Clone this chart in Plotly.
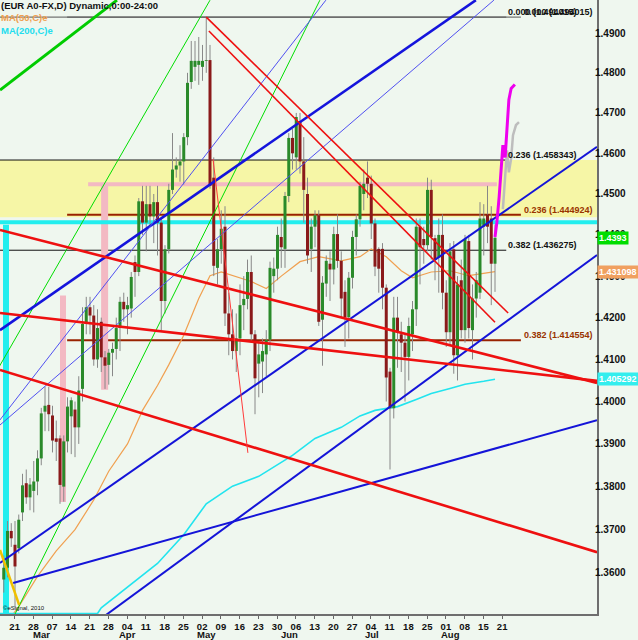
import math
import numpy as np
import pandas as pd
import plotly.graph_objects as go

# ---------------- data ----------------
dates = pd.bdate_range("2011-02-17", "2011-08-19")

opens = [1.3585, 1.3612,
         1.3697, 1.3665, 1.3657, 1.3740, 1.3808,
         1.3775, 1.3790, 1.3812, 1.3866, 1.3976,
         1.3992, 1.3967, 1.3913, 1.3913, 1.3800,
         1.3906, 1.3965, 1.3981, 1.3939, 1.4030,
         1.4185, 1.4225, 1.4205, 1.4100, 1.4190,
         1.4105, 1.4087, 1.4116, 1.4125, 1.4175,
         1.4238, 1.4220, 1.4222, 1.4334, 1.4310,
         1.4482, 1.4430, 1.4475, 1.4445, 1.4480,
         1.4430, 1.4240, 1.4365, 1.4510, 1.4560,
         1.4570, 1.4580, 1.4640, 1.4777, 1.4815,
         1.4820, 1.4815, 1.4830, 1.4832, 1.4540,
         1.4320, 1.4365, 1.4420, 1.4210, 1.4160,
         1.4120, 1.4150, 1.4230, 1.4245, 1.4310,
         1.4160, 1.4090, 1.4095, 1.4112, 1.4147,
         1.4300, 1.4318, 1.4395, 1.4366, 1.4495,
         1.4638, 1.4590, 1.4680, 1.4580, 1.4500,
         1.4366, 1.4420, 1.4448, 1.4195, 1.4282,
         1.4330, 1.4316, 1.4402, 1.4337, 1.4262,
         1.4201, 1.4296, 1.4395, 1.4438, 1.4500,
         1.4540, 1.4525, 1.4428, 1.4366, 1.4366,
         1.4272, 1.4071, 1.3984, 1.4200, 1.4160,
         1.4140, 1.4106, 1.4160, 1.4220, 1.4420,
         1.4390, 1.4375, 1.4510, 1.4392, 1.4345,
         1.4400, 1.4260, 1.4165, 1.4365, 1.4110,
         1.4290, 1.4170, 1.4385, 1.4170, 1.4246,
         1.4260, 1.4420, 1.4450, 1.4440, 1.4330]
highs = [1.3640, 1.3720,
         1.3715, 1.3720, 1.3735, 1.3830, 1.3840,
         1.3820, 1.3860, 1.3885, 1.3985, 1.4035,
         1.4035, 1.3990, 1.3955, 1.3920, 1.3920,
         1.4010, 1.4010, 1.4000, 1.4060, 1.4225,
         1.4250, 1.4250, 1.4230, 1.4220, 1.4200,
         1.4120, 1.4125, 1.4140, 1.4200, 1.4250,
         1.4260, 1.4250, 1.4310, 1.4350, 1.4490,
         1.4520, 1.4520, 1.4520, 1.4500, 1.4520,
         1.4440, 1.4375, 1.4525, 1.4650, 1.4590,
         1.4620, 1.4650, 1.4800, 1.4880, 1.4880,
         1.4890, 1.4870, 1.4940, 1.4870, 1.4590,
         1.4390, 1.4460, 1.4470, 1.4260, 1.4220,
         1.4210, 1.4280, 1.4300, 1.4340, 1.4350,
         1.4170, 1.4140, 1.4150, 1.4170, 1.4335,
         1.4345, 1.4420, 1.4440, 1.4505, 1.4650,
         1.4660, 1.4700, 1.4700, 1.4640, 1.4540,
         1.4440, 1.4460, 1.4460, 1.4300, 1.4350,
         1.4360, 1.4420, 1.4450, 1.4360, 1.4290,
         1.4310, 1.4410, 1.4450, 1.4530, 1.4560,
         1.4580, 1.4545, 1.4440, 1.4370, 1.4380,
         1.4280, 1.4080, 1.4250, 1.4250, 1.4190,
         1.4160, 1.4200, 1.4240, 1.4440, 1.4440,
         1.4420, 1.4540, 1.4535, 1.4400, 1.4440,
         1.4450, 1.4290, 1.4380, 1.4385, 1.4300,
         1.4340, 1.4400, 1.4400, 1.4280, 1.4310,
         1.4480, 1.4475, 1.4520, 1.4470, 1.4425]
lows = [1.3555, 1.3590,
        1.3660, 1.3520, 1.3645, 1.3720, 1.3760,
        1.3745, 1.3740, 1.3780, 1.3850, 1.3930,
        1.3930, 1.3880, 1.3860, 1.3760, 1.3765,
        1.3880, 1.3876, 1.3869, 1.3900, 1.4000,
        1.4160, 1.4160, 1.4085, 1.4080, 1.4070,
        1.4030, 1.4040, 1.4060, 1.4100, 1.4120,
        1.4190, 1.4160, 1.4200, 1.4250, 1.4300,
        1.4400, 1.4360, 1.4420, 1.4380, 1.4350,
        1.4170, 1.4210, 1.4355, 1.4500, 1.4540,
        1.4530, 1.4523, 1.4620, 1.4760, 1.4780,
        1.4770, 1.4780, 1.4800, 1.4513, 1.4300,
        1.4280, 1.4330, 1.4180, 1.4110, 1.4100,
        1.4070, 1.4110, 1.4170, 1.4220, 1.4140,
        1.3970, 1.4010, 1.4020, 1.4060, 1.4120,
        1.4260, 1.4290, 1.4320, 1.4320, 1.4480,
        1.4560, 1.4560, 1.4550, 1.4430, 1.4330,
        1.4310, 1.4370, 1.4180, 1.4085, 1.4250,
        1.4240, 1.4280, 1.4320, 1.4200, 1.4130,
        1.4150, 1.4270, 1.4350, 1.4420, 1.4460,
        1.4490, 1.4390, 1.4300, 1.4260, 1.4220,
        1.4000, 1.3840, 1.3960, 1.4080, 1.4070,
        1.4000, 1.4050, 1.4120, 1.4180, 1.4280,
        1.4330, 1.4360, 1.4340, 1.4290, 1.4260,
        1.4220, 1.4130, 1.4135, 1.4066, 1.4050,
        1.4150, 1.4140, 1.4150, 1.4100, 1.4200,
        1.4245, 1.4350, 1.4380, 1.4230, 1.4262]
closes = [1.3612, 1.3697,
          1.3680, 1.3615, 1.3723, 1.3803, 1.3775,
          1.3805, 1.3812, 1.3866, 1.3972, 1.3990,
          1.3970, 1.3908, 1.3905, 1.3804, 1.3906,
          1.3988, 1.4003, 1.3939, 1.4026, 1.4185,
          1.4225, 1.4205, 1.4100, 1.4175, 1.4105,
          1.4085, 1.4116, 1.4125, 1.4175, 1.4238,
          1.4220, 1.4230, 1.4298, 1.4310, 1.4482,
          1.4430, 1.4475, 1.4445, 1.4480, 1.4430,
          1.4240, 1.4365, 1.4510, 1.4560, 1.4570,
          1.4580, 1.4640, 1.4775, 1.4830, 1.4830,
          1.4830, 1.4830, 1.4832, 1.4520, 1.4325,
          1.4365, 1.4415, 1.4210, 1.4160, 1.4120,
          1.4150, 1.4230, 1.4245, 1.4310, 1.4160,
          1.4055, 1.4112, 1.4120, 1.4147, 1.4320,
          1.4318, 1.4400, 1.4370, 1.4495, 1.4638,
          1.4600, 1.4690, 1.4580, 1.4510, 1.4350,
          1.4420, 1.4448, 1.4190, 1.4284, 1.4337,
          1.4316, 1.4402, 1.4337, 1.4246, 1.4201,
          1.4296, 1.4395, 1.4438, 1.4520, 1.4525,
          1.4525, 1.4428, 1.4323, 1.4318, 1.4272,
          1.4057, 1.3984, 1.4200, 1.4165, 1.4140,
          1.4106, 1.4180, 1.4220, 1.4420, 1.4370,
          1.4375, 1.4510, 1.4395, 1.4340, 1.4400,
          1.4260, 1.4165, 1.4360, 1.4110, 1.4280,
          1.4170, 1.4390, 1.4175, 1.4246, 1.4290,
          1.4440, 1.4440, 1.4420, 1.4330, 1.4393]

# moving averages (bar number from 21 Feb, value)
ma50_bar = [0, 2, 7, 12, 17, 22, 26, 31, 35, 39, 42, 46, 50, 53, 56, 59,
            64, 68, 72, 77, 82, 88, 93, 96, 100, 104, 107, 112, 117, 122, 126, 129]
ma50_val = [1.3500, 1.3523, 1.3592, 1.3651, 1.3700, 1.3769, 1.3836, 1.3900,
            1.3979, 1.4038, 1.4087, 1.4158, 1.4246, 1.4301, 1.4310, 1.4301,
            1.4287, 1.4270, 1.4300, 1.4335, 1.4347, 1.4337, 1.4347, 1.4366,
            1.4347, 1.4313, 1.4296, 1.4310, 1.4313, 1.4301, 1.4306, 1.431098]
ma200_bar = [-3, 23, 24, 32, 39, 46, 52, 59, 66, 75, 81, 88, 93, 97, 103,
             108, 112, 117, 121, 126, 129]
ma200_val = [1.3507, 1.3507, 1.3520, 1.3574, 1.3622, 1.3688, 1.3760, 1.3801,
             1.3824, 1.3873, 1.3913, 1.3939, 1.3966, 1.3979, 1.3988, 1.4005,
             1.4019, 1.4031, 1.4041, 1.4048, 1.405292]

week_labels = ["21", "28", "07", "14", "21", "28", "04", "11", "18", "25",
               "02", "09", "16", "23", "30", "06", "13", "20", "27", "04",
               "11", "18", "25", "01", "08", "15", "21"]
month_labels = ["Mar", "Apr", "May", "Jun", "Jul", "Aug"]
price_ticks = [1.36, 1.37, 1.38, 1.39, 1.40, 1.41, 1.42, 1.43, 1.44,
               1.45, 1.46, 1.47, 1.48, 1.49]

fib_black = [("0.000", 1.494015), ("0.236", 1.458343), ("0.382", 1.436275)]
fib_brown = [("0.000", 1.494015), ("0.236", 1.444924), ("0.382", 1.414554)]

last_price = 1.4393
ma50_last = 1.431098
ma200_last = 1.405292

zone_hi, zone_lo = 1.458343, 1.4443
pink_level = 1.4524
pink_bar1 = (24.9, 1.4524, 1.4028)
pink_bar2 = (13.8, 1.4253, 1.3764)
cyan_level = 1.4431
cyan_bar = (-1.4, 1.4425, 1.3400)

# drawn trend lines: bar0, price0, bar1, price1
trend_green_thick = [(-3.0, 1.4757, 28.2, 1.4983)]
trend_green_thin = [(-8.3, 1.4004, 53.0, 1.4983), (0.2, 1.3492, 82.3, 1.4983)]
trend_blue_thick = [(-3.0, 1.4170, 123.9, 1.4983)]
trend_blue = [(-3.0, 1.3623, 156.2, 1.4616), (23.4, 1.3492, 156.2, 1.4351),
              (0.5, 1.3577, 156.2, 1.3956)]
trend_blue_thin = [(-5.7, 1.3926, 83.9, 1.4983), (-5.7, 1.3924, 128.7, 1.4983)]
trend_red_thick = [(-3.0, 1.4412, 156.2, 1.4044), (-3.0, 1.4211, 156.2, 1.4049),
                   (-3.0, 1.4075, 156.2, 1.3648)]
trend_red = [(52.0, 1.4940, 132.5, 1.4211), (52.7, 1.4905, 129.0, 1.4189)]
trend_red_thin = [(53.8, 1.4586, 63.1, 1.3879)]
trend_gold = [(-3.0, 1.3653, 2.1, 1.3527)]

magenta_bar = [129.0, 129.5, 130.1, 130.6, 131.1, 131.7, 132.2, 132.7, 133.3, 134.3]
magenta_val = [1.4395, 1.4431, 1.4492, 1.4558, 1.4620, 1.4590, 1.4670, 1.4733, 1.4761, 1.4771]
gray_bar = [131.1, 131.7, 132.2, 132.7, 133.3, 133.8, 134.6, 135.4]
gray_val = [1.4463, 1.4558, 1.4607, 1.4553, 1.4587, 1.4645, 1.4670, 1.4677]

# ---------------- layout constants ----------------
W, H = 638, 640
ML, MR, MT, MB = 0, 41, 0, 26
X_RANGE = [-3.0, 156.2]
Y_RANGE = [math.log10(1.3506), math.log10(1.49834)]
BG = "#EFF7EF"
FONT = "Liberation Sans, Arial, sans-serif"
TICK_SHIFT = 0.9
MONTH_SHIFT = 2.1
BLACK_END, BLACK_LABEL = 132.0, 132.2
BROWN_START, BROWN_END, BROWN_LABEL = 14.9, 135.9, 136.5

base = np.datetime64("2011-02-21")
xs = np.busday_count(base, dates.values.astype("datetime64[D]"))

fig = go.Figure()


def seg(x0, y0, x1, y1, color, width, dash=None):
    fig.add_trace(go.Scatter(x=[x0, x1], y=[y0, y1], mode="lines",
                             line=dict(color=color, width=width, dash=dash),
                             hoverinfo="skip", showlegend=False))


# yellow zone
fig.add_trace(go.Scatter(x=[X_RANGE[0], X_RANGE[1], X_RANGE[1], X_RANGE[0], X_RANGE[0]],
                         y=[zone_lo, zone_lo, zone_hi, zone_hi, zone_lo],
                         mode="lines", fill="toself", fillcolor="#F6F6A6",
                         line=dict(width=0, color="#F6F6A6"),
                         hoverinfo="skip", showlegend=False))

# fib levels
for r, v in fib_black:
    seg(X_RANGE[0], v, BLACK_END, v, "#111111" if r != "0.000" else "#555555", 1)
for r, v in fib_brown:
    if r == "0.000":
        seg(BROWN_START, v, BROWN_END, v, "#555555", 1)
    else:
        seg(BROWN_START, v, BROWN_END, v, "#992200", 2)

# pink marks
seg(20.5, pink_level, 129.5, pink_level, "#F3B9C3", 4)
seg(pink_bar1[0], pink_bar1[1], pink_bar1[0], pink_bar1[2], "#F3B9C3", 7)
seg(pink_bar2[0], pink_bar2[1], pink_bar2[0], pink_bar2[2], "#F3B9C3", 6)

# cyan marks
seg(X_RANGE[0], cyan_level, X_RANGE[1], cyan_level, "#22EEEE", 4)
seg(cyan_bar[0], cyan_bar[1], cyan_bar[0], cyan_bar[2], "#22EEEE", 6)

# moving averages
fig.add_trace(go.Scatter(x=ma50_bar, y=ma50_val, mode="lines",
                         line=dict(color="#F0A050", width=1.2),
                         hoverinfo="skip", showlegend=False))
fig.add_trace(go.Scatter(x=ma200_bar, y=ma200_val, mode="lines",
                         line=dict(color="#22E4EE", width=1.6),
                         hoverinfo="skip", showlegend=False))

# candles: wicks then bodies
wx, wy = [], []
ux, uy, dx, dy = [], [], [], []
for x, o, h, l, c in zip(xs, opens, highs, lows, closes):
    wx += [x, x, None]
    wy += [l, h, None]
    if c >= o:
        ux += [x, x, None]
        uy += [o, c, None]
    else:
        dx += [x, x, None]
        dy += [o, c, None]
fig.add_trace(go.Scatter(x=wx, y=wy, mode="lines", line=dict(color="#888888", width=1),
                         hoverinfo="skip", showlegend=False))
fig.add_trace(go.Scatter(x=ux, y=uy, mode="lines", line=dict(color="#2A8A2A", width=3),
                         hoverinfo="skip", showlegend=False))
fig.add_trace(go.Scatter(x=dx, y=dy, mode="lines", line=dict(color="#8A1A1A", width=3),
                         hoverinfo="skip", showlegend=False))

# trend lines
for ln in trend_green_thick:
    seg(*ln, "#00CC00", 3)
for ln in trend_green_thin:
    seg(*ln, "#00DD00", 1)
for ln in trend_blue_thick:
    seg(*ln, "#1414DC", 2.6)
for ln in trend_blue:
    seg(*ln, "#1414D8", 2)
for ln in trend_blue_thin:
    seg(*ln, "#5050F0", 1)
for ln in trend_red_thick:
    seg(*ln, "#EE1010", 2.6)
for ln in trend_red:
    seg(*ln, "#EE1010", 1.6)
for ln in trend_red_thin:
    seg(*ln, "#FF3A3A", 1)
for ln in trend_gold:
    seg(*ln, "#F0C000", 2.5)

# projections
fig.add_trace(go.Scatter(x=gray_bar, y=gray_val, mode="lines",
                         line=dict(color="#BDBDBD", width=2.5),
                         hoverinfo="skip", showlegend=False))
fig.add_trace(go.Scatter(x=magenta_bar, y=magenta_val, mode="lines",
                         line=dict(color="#EE00EE", width=3),
                         hoverinfo="skip", showlegend=False))

# ---------------- axes ----------------
mondays = pd.date_range("2011-02-21", "2011-08-22", freq="W-MON")
week_pos = np.busday_count(base, mondays.values.astype("datetime64[D]")) + TICK_SHIFT

fig.update_xaxes(range=X_RANGE, showgrid=False, zeroline=False,
                 tickmode="array", tickvals=list(week_pos), ticktext=week_labels,
                 ticks="outside", ticklen=3, tickcolor="#666666",
                 tickfont=dict(family=FONT, size=9.5, color="#111111", weight="bold"),
                 showline=True, linecolor="#6E6E6E", linewidth=2)
fig.update_yaxes(type="log", range=Y_RANGE, side="right", showgrid=False,
                 zeroline=False, tickmode="array", tickvals=price_ticks,
                 ticktext=[f"{p:.4f}" for p in price_ticks], ticks="",
                 ticklabelstandoff=-6,
                 tickfont=dict(family=FONT, size=10, color="#111111", weight="bold"),
                 showline=True, linecolor="#6E6E6E", linewidth=2)

ann = []
plot_h = H - MT - MB


def py_to_paper(py):
    return 1 - (py - MT) / plot_h


# month names
for m, name in zip(range(3, 9), month_labels):
    first = xs[np.argmax(dates.month == m)]
    ann.append(dict(x=first + MONTH_SHIFT, xref="x", y=py_to_paper(634), yref="paper",
                    text=name, showarrow=False, xanchor="center", yanchor="middle",
                    font=dict(family=FONT, size=9.5, color="#111111", weight="bold")))

# fib labels
for r, v in fib_black:
    ann.append(dict(x=BLACK_LABEL, xref="x", y=math.log10(v), yref="y",
                    text=f"{r} ({v:.6f})", showarrow=False, xanchor="left",
                    yanchor="middle", yshift=5, borderpad=0,
                    font=dict(family=FONT, size=9, color="#111111", weight="bold")))
for r, v in fib_brown:
    ann.append(dict(x=BROWN_LABEL, xref="x", y=math.log10(v), yref="y",
                    text=f"{r} ({v:.6f})", showarrow=False, xanchor="left",
                    yanchor="middle", yshift=5, borderpad=0,
                    font=dict(family=FONT, size=9,
                              color="#111111" if r == "0.000" else "#993300",
                              weight="bold")))

# right price boxes
for val, txt, bg in [(last_price, "1.4393", "#00DD00"),
                     (ma50_last, "1.431098", "#F0A060"),
                     (ma200_last, "1.405292", "#33EEEE")]:
    ann.append(dict(x=1, xref="paper", y=math.log10(val), yref="y", text=txt,
                    showarrow=False, xanchor="left", yanchor="middle", xshift=0,
                    bgcolor=bg, borderpad=1,
                    font=dict(family=FONT, size=9, color="#FFFFFF", weight="bold")))

# title and legend
ann.append(dict(x=0, xref="paper", y=py_to_paper(5), yref="paper",
                text="(EUR A0-FX,D) Dynamic,0:00-24:00", showarrow=False,
                xanchor="left", yanchor="middle", borderpad=0,
                font=dict(family=FONT, size=9.5, color="#111111", weight="bold")))
ann.append(dict(x=0, xref="paper", y=py_to_paper(17), yref="paper",
                text="MA(50,C)e", showarrow=False, xanchor="left", yanchor="middle",
                borderpad=0,
                font=dict(family=FONT, size=9.5, color="#F0A050", weight="bold")))
ann.append(dict(x=0, xref="paper", y=py_to_paper(30), yref="paper",
                text="MA(200,C)e", showarrow=False, xanchor="left", yanchor="middle",
                borderpad=0,
                font=dict(family=FONT, size=9.5, color="#22DDEE", weight="bold")))
ann.append(dict(x=0, xref="paper", y=py_to_paper(608), yref="paper",
                text="\u00a9eSignal, 2010", showarrow=False, xanchor="left",
                yanchor="middle", borderpad=0, xshift=2,
                font=dict(family=FONT, size=6, color="#111111")))

fig.update_layout(width=W, height=H, autosize=False,
                  margin=dict(l=ML, r=MR, t=MT, b=MB, pad=0),
                  paper_bgcolor=BG, plot_bgcolor=BG, showlegend=False,
                  annotations=ann, hovermode=False)

fig.write_html("out.html",
               config={"displayModeBar": False, "staticPlot": True},
               post_script="document.body.style.margin='0';"
                           "document.body.style.overflow='hidden';"
                           "document.body.style.background='" + BG + "';")
